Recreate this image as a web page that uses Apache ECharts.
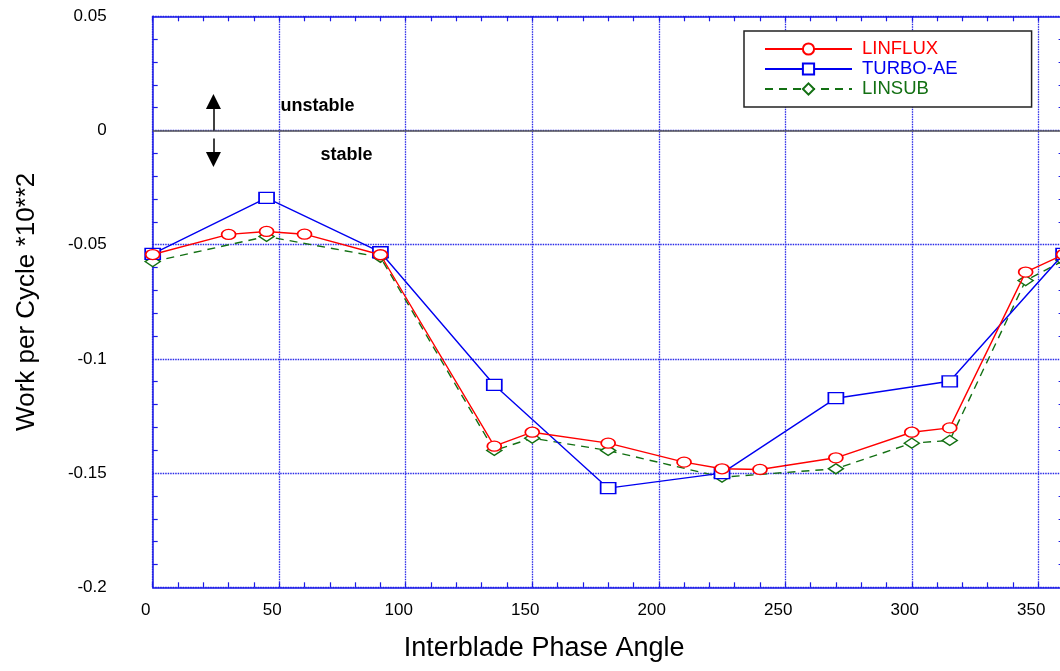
<!DOCTYPE html>
<html>
<head>
<meta charset="utf-8">
<script src="https://cdn.jsdelivr.net/npm/echarts@6/dist/echarts.min.js"></script>
<style>html,body{margin:0;padding:0;background:#fff}#c{width:1060px;height:671px}</style>
</head>
<body>
<div id="c"></div>
<script>
// ---- data ----
const linfluxX = [0, 30, 45, 60, 90, 135, 150, 180, 210, 225, 240, 270, 300, 315, 345, 360];
const linfluxY = [-0.0543, -0.0455, -0.0442, -0.0454, -0.0544, -0.1382, -0.1321, -0.1369, -0.1452, -0.1481, -0.1484, -0.1433, -0.1321, -0.1302, -0.0620, -0.0543];
const turboX = [0, 45, 90, 135, 180, 225, 270, 315, 360];
const turboY = [-0.0540, -0.0295, -0.0533, -0.1114, -0.1566, -0.1500, -0.1172, -0.1098, -0.0540];
const linsubX = [0, 45, 90, 135, 150, 180, 225, 270, 300, 315, 345, 360];
const linsubY = [-0.0574, -0.0464, -0.0555, -0.1401, -0.1347, -0.1401, -0.1518, -0.1481, -0.1369, -0.1357, -0.0657, -0.0569];
const seriesNames = ['LINFLUX', 'TURBO-AE', 'LINSUB'];
const xTitle = 'Interblade Phase Angle';
const yTitle = 'Work per Cycle *10**2';
// annotation positions in data units
const arrowUp = [[24, 0.0], [24, 0.0127]];
const arrowDown = [[24, -0.0035], [24, -0.0127]];
const labelUnstable = [50.3, 0.0105, 'unstable'];
const labelStable = [66.1, -0.0109, 'stable'];

const RED = '#ff0000', BLUE = '#0000f0', GREEN = '#137013', AXIS = '#1a1ae6';
const FONT = 'Liberation Sans, Arial';
const ellipse = 'path://M-1,0A1,1 0 1,0 1,0A1,1 0 1,0 -1,0Z';
const zip = (xs, ys) => xs.map((x, i) => [x, ys[i]]);
const gridLine = { show: true, lineStyle: { color: '#2a2ae8', type: [1.5, 1], width: 1.3 } };

const chart = echarts.init(document.getElementById('c'), null, { renderer: 'canvas' });
chart.setOption({
  animation: false,
  backgroundColor: '#fff',
  grid: { left: 152.7, right: -3.6, top: 16.3, bottom: 83.7, outerBoundsMode: 'none', containLabel: false },
  legend: {
    orient: 'vertical', left: 744, top: 31,
    data: [
      { name: seriesNames[0], textStyle: { color: RED } },
      { name: seriesNames[1], textStyle: { color: BLUE } },
      { name: seriesNames[2], textStyle: { color: GREEN } }
    ],
    itemWidth: 87, itemHeight: 14, itemGap: 0,
    padding: [8, 74, 8, 20],
    borderColor: '#222', borderWidth: 1.5, backgroundColor: '#fff',
    textStyle: { fontFamily: FONT, fontSize: 18.5, lineHeight: 20, padding: [0, 0, 0, 5] }
  },
  xAxis: [
    {
      type: 'value', position: 'bottom', min: 0, max: 360, interval: 50,
      name: xTitle, nameLocation: 'middle', nameGap: 48,
      nameTextStyle: { fontFamily: FONT, fontSize: 27, color: '#000', padding: [0, 128, 0, 0] },
      axisLine: { show: true, onZero: false, lineStyle: { color: AXIS, width: 1.5 } },
      axisTick: { show: false },
      axisLabel: { fontFamily: FONT, fontSize: 17, color: '#000', margin: 15, showMaxLabel: false, padding: [0, 14, 0, 0] },
      splitLine: gridLine
    },
    {
      type: 'value', position: 'bottom', min: 0, max: 360, interval: 10,
      axisLine: { show: false, onZero: false },
      axisTick: { show: true, inside: true, length: 5, lineStyle: { color: AXIS, width: 1.2 } },
      axisLabel: { show: false }, splitLine: { show: false }
    },
    {
      type: 'value', position: 'top', min: 0, max: 360, interval: 10,
      axisLine: { show: true, onZero: false, lineStyle: { color: AXIS, width: 1.5 } },
      axisTick: { show: true, inside: true, length: 5, lineStyle: { color: AXIS, width: 1.2 } },
      axisLabel: { show: false }, splitLine: { show: false }
    }
  ],
  yAxis: [
    {
      type: 'value', position: 'left', min: -0.2, max: 0.05, interval: 0.05,
      name: yTitle, nameLocation: 'middle', nameGap: 113,
      nameTextStyle: { fontFamily: FONT, fontSize: 26, color: '#000' },
      axisLine: { show: true, onZero: false, lineStyle: { color: AXIS, width: 1.5 } },
      axisTick: { show: false, inside: true },
      minorTick: { show: true, splitNumber: 5, length: 5, lineStyle: { color: AXIS, width: 1.2 } },
      axisLabel: {
        fontFamily: FONT, fontSize: 17, color: '#000', margin: 46,
        formatter: v => String(Math.round(v * 100) / 100)
      },
      splitLine: gridLine
    },
    {
      type: 'value', position: 'right', min: -0.2, max: 0.05, interval: 0.05,
      axisLine: { show: true, onZero: false, lineStyle: { color: AXIS, width: 1.5 } },
      axisTick: { show: false, inside: true },
      minorTick: { show: true, splitNumber: 5, length: 5, lineStyle: { color: AXIS, width: 1.2 } },
      axisLabel: { show: false }, splitLine: { show: false }
    }
  ],
  series: [
    {
      name: 'zero', type: 'line', data: [], silent: true,
      markLine: {
        silent: true, symbol: 'none', animation: false, label: { show: false },
        lineStyle: { color: '#555', type: 'solid', width: 1.5 },
        data: [{ yAxis: 0 }]
      }
    },
    {
      name: 'arrows', type: 'line', data: [], silent: true,
      markLine: {
        silent: true, symbol: ['none', 'triangle'], symbolSize: 15, animation: false,
        label: { show: false },
        lineStyle: { color: '#000', type: 'solid', width: 1.5 },
        itemStyle: { color: '#000' },
        data: [
          [{ coord: arrowUp[0] }, { coord: arrowUp[1] }],
          [{ coord: arrowDown[0] }, { coord: arrowDown[1] }]
        ]
      },
      markPoint: {
        silent: true, symbol: 'circle', symbolSize: 1, itemStyle: { color: 'rgba(0,0,0,0)' },
        label: { show: true, position: 'right', distance: 0, color: '#000', fontWeight: 'bold', fontSize: 18, fontFamily: FONT, formatter: p => p.name },
        data: [
          { name: labelUnstable[2], coord: [labelUnstable[0], labelUnstable[1]] },
          { name: labelStable[2], coord: [labelStable[0], labelStable[1]] }
        ]
      }
    },
    {
      name: seriesNames[2], type: 'line', data: zip(linsubX, linsubY), z: 3,
      symbol: 'diamond', symbolSize: [15, 10], showAllSymbol: true,
      lineStyle: { color: GREEN, width: 1.4, type: [8, 6] },
      itemStyle: { color: '#fff', borderColor: GREEN, borderWidth: 1.5 }
    },
    {
      name: seriesNames[1], type: 'line', data: zip(turboX, turboY), z: 4,
      symbol: 'rect', symbolSize: [15, 11], showAllSymbol: true,
      lineStyle: { color: BLUE, width: 1.4 },
      itemStyle: { color: '#fff', borderColor: BLUE, borderWidth: 1.5 }
    },
    {
      name: seriesNames[0], type: 'line', data: zip(linfluxX, linfluxY), z: 5,
      symbol: ellipse, symbolSize: [14, 10], showAllSymbol: true,
      lineStyle: { color: RED, width: 1.4 },
      itemStyle: { color: '#fff', borderColor: RED, borderWidth: 1.5 }
    }
  ]
});
</script>
</body>
</html>
